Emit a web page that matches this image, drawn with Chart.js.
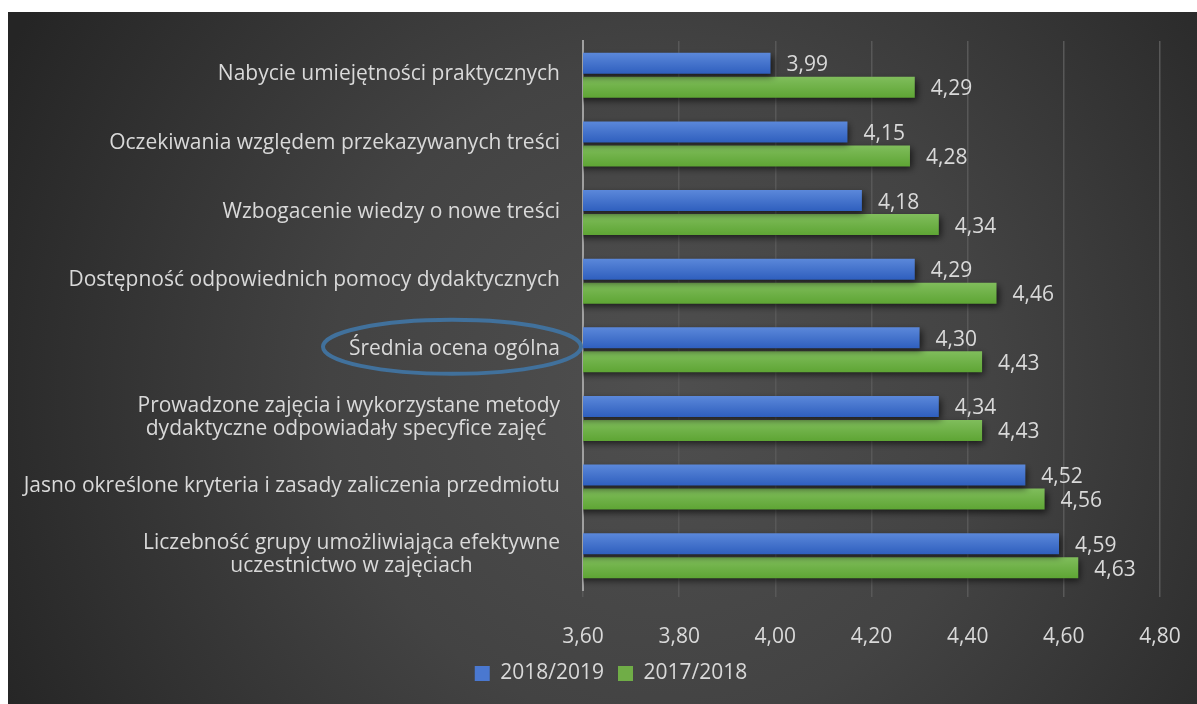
<!DOCTYPE html>
<html>
<head>
<meta charset="utf-8">
<script src="https://cdn.jsdelivr.net/npm/chart.js@4/dist/chart.umd.min.js"></script>
<style>
  html, body { margin: 0; padding: 0; background: #ffffff; }
  #wrap { position: absolute; left: 8px; top: 12px; width: 1189px; height: 692px; }
</style>
</head>
<body>
<div id="wrap"><canvas id="chart"></canvas></div>
<script>
// Chart labels
var categories = [
  ['Nabycie umiejętności praktycznych'],
  ['Oczekiwania względem przekazywanych treści'],
  ['Wzbogacenie wiedzy o nowe treści'],
  ['Dostępność odpowiednich pomocy dydaktycznych'],
  ['Średnia ocena ogólna'],
  ['Prowadzone zajęcia i wykorzystane metody', 'dydaktyczne odpowiadały specyfice zajęć '],
  ['Jasno określone kryteria i zasady zaliczenia przedmiotu'],
  ['Liczebność grupy umożliwiająca efektywne', 'uczestnictwo w zajęciach']
];
var highlightLabel = 'Średnia ocena ogólna';

// Chart data
var seriesNames = ['2018/2019', '2017/2018'];
var values2018_2019 = [3.99, 4.15, 4.18, 4.29, 4.30, 4.34, 4.52, 4.59];
var values2017_2018 = [4.29, 4.28, 4.34, 4.46, 4.43, 4.43, 4.56, 4.63];

// Axis
var axisMin = 3.6;
var axisMax = 4.8;
var axisStep = 0.2;

// Colors
var textColor = '#d9d9d9';
var blueColor = '#4a78d0';
var greenColor = '#70ad47';
var fontFamily = '"Open Sans", "Noto Sans", sans-serif';
var fontSize = 21;

function fmt(v, d) {
  return v.toFixed(d).replace('.', ',');
}

// Background plugin
var backgroundPlugin = {
  id: 'bg',
  beforeDraw: function (chart) {
    var ctx = chart.ctx;
    var w = chart.width, h = chart.height;
    ctx.save();
    var g = ctx.createRadialGradient(w * 0.55, h * 0.55, 0, w * 0.55, h * 0.55, w * 0.62);
    g.addColorStop(0, '#4f4f4f');
    g.addColorStop(0.45, '#434343');
    g.addColorStop(1, '#252525');
    ctx.fillStyle = g;
    ctx.fillRect(0, 0, w, h);
    ctx.restore();
  },
  // move the legend a bit to the right, like the original
  afterLayout: function (chart) {
    var lg = chart.legend;
    if (lg) { lg.left += 27; lg.right += 27; }
  }
};

// Bar gradient + shadow
var barStylePlugin = {
  id: 'barStyle',
  beforeDatasetsDraw: function (chart) {
    var ctx = chart.ctx;
    var tops = [['#5b88da', '#2f5fbe'], ['#80bd5c', '#5ea534']];
    chart.data.datasets.forEach(function (ds, di) {
      chart.getDatasetMeta(di).data.forEach(function (el) {
        var half = el.height / 2;
        var g = ctx.createLinearGradient(0, el.y - half, 0, el.y + half);
        g.addColorStop(0, tops[di][0]);
        g.addColorStop(1, tops[di][1]);
        el.options.backgroundColor = g;
      });
    });
    ctx.save();
    ctx.shadowColor = 'rgba(0,0,0,0.65)';
    ctx.shadowBlur = 7;
    ctx.shadowOffsetX = 2;
    ctx.shadowOffsetY = 3;
  },
  afterDatasetsDraw: function (chart) {
    chart.ctx.restore();
  }
};

// Value labels, category labels and highlight ellipse
var labelsPlugin = {
  id: 'labels',
  afterDatasetsDraw: function (chart) {
    var ctx = chart.ctx;
    ctx.save();
    ctx.font = fontSize + 'px ' + fontFamily;
    ctx.fillStyle = textColor;
    ctx.textBaseline = 'middle';
    ctx.textAlign = 'left';
    chart.data.datasets.forEach(function (ds, di) {
      chart.getDatasetMeta(di).data.forEach(function (el, i) {
        ctx.fillText(fmt(ds.data[i], 2), el.x + 16, el.y + 2);
      });
    });

    // category labels, each line centred in a right aligned block
    var yScale = chart.scales.y;
    var right = chart.chartArea.left - 23;
    var lineH = 23;
    categories.forEach(function (lines, i) {
      var yc = yScale.getPixelForValue(i);
      var maxW = 0;
      lines.forEach(function (t) { maxW = Math.max(maxW, ctx.measureText(t).width); });
      ctx.textAlign = 'center';
      lines.forEach(function (t, k) {
        var y = yc + (k - (lines.length - 1) / 2) * lineH - 1;
        ctx.fillText(t, right - maxW / 2, y);
      });
    });

    // highlight ellipse
    var hi = categories.findIndex(function (l) { return l[0] === highlightLabel; });
    if (hi >= 0) {
      var cy = yScale.getPixelForValue(hi) - 3;
      ctx.beginPath();
      ctx.ellipse(chart.chartArea.left - 131, cy, 129, 27, 0, 0, Math.PI * 2);
      ctx.strokeStyle = '#41719c';
      ctx.lineWidth = 4;
      ctx.stroke();
    }
    ctx.restore();
  }
};

var ctx = document.getElementById('chart');

var data = {
  labels: categories,
  datasets: [{
    label: seriesNames[0],
    data: values2018_2019,
    // scriptable so every bar gets its own options object
    backgroundColor: function () { return blueColor; },
    borderWidth: 0
  }, {
    label: seriesNames[1],
    data: values2017_2018,
    backgroundColor: function () { return greenColor; },
    borderWidth: 0
  }]
};

var config = {
  type: 'bar',
  data: data,
  plugins: [backgroundPlugin, barStylePlugin, labelsPlugin],
  options: {
    indexAxis: 'y',
    responsive: true,
    maintainAspectRatio: false,
    animation: false,
    categoryPercentage: 0.7,
    barPercentage: 0.875,
    layout: {
      padding: { left: 0, top: 29, right: 37, bottom: 10 }
    },
    plugins: {
      title: { display: false },
      tooltip: { enabled: false },
      legend: {
        position: 'bottom',
        labels: {
          color: textColor,
          font: { family: fontFamily, size: fontSize },
          boxWidth: 15,
          boxHeight: 15,
          padding: 14,
          generateLabels: function (chart) {
            return chart.data.datasets.map(function (ds, i) {
              return {
                text: ds.label,
                fillStyle: i === 0 ? blueColor : greenColor,
                strokeStyle: 'transparent',
                lineWidth: 0,
                fontColor: textColor,
                datasetIndex: i
              };
            });
          }
        }
      }
    },
    scales: {
      x: {
        min: axisMin,
        max: axisMax,
        afterFit: function (scale) {
          scale.height = 59;
          scale.paddingLeft = 0;
          scale.paddingRight = 0;
        },
        afterBuildTicks: function (scale) {
          var t = [];
          for (var v = axisMin; v <= axisMax + 1e-9; v += axisStep) t.push({ value: Math.round(v * 100) / 100 });
          scale.ticks = t;
        },
        ticks: {
          color: textColor,
          font: { family: fontFamily, size: fontSize },
          padding: 27,
          callback: function (v) { return fmt(v, 2); }
        },
        grid: {
          color: '#585858',
          lineWidth: 1.5,
          drawTicks: true,
          tickLength: 7
        },
        border: { display: false }
      },
      y: {
        afterFit: function (scale) { scale.width = 575; },
        ticks: { display: false },
        grid: { display: false },
        border: { display: true, color: '#a0a0a0', width: 2 }
      }
    }
  }
};

var myChart = new Chart(ctx, config);
</script>
</body>
</html>
